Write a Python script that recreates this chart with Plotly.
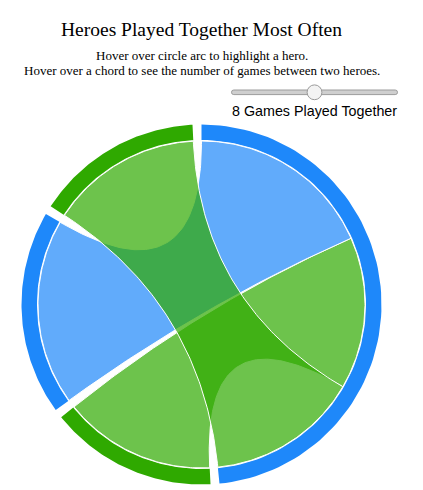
import numpy as np
import plotly.graph_objects as go

# ---------------- data ----------------
heroes = ["Hero 1", "Hero 2", "Hero 3", "Hero 4"]
hero_colors = ["#1e88fa", "#2fa900", "#1e88fa", "#2fa900"]
games = [
    [0, 9, 11, 9],
    [9, 0, 0, 0],
    [11, 0, 0, 0],
    [9, 0, 0, 0],
]
min_games = 8
slider_min, slider_max = 1, 15

title_text = "Heroes Played Together Most Often"
subtitle_lines = [
    "Hover over circle arc to highlight a hero.",
    "Hover over a chord to see the number of games between two heroes.",
]
slider_label = f"{min_games} Games Played Together"

# ---------------- layout constants ----------------
# page body has an 8px default margin: figure is drawn from (8, 8)
OFF = 8
W, H = 423, 490
CX, CY = 201.5, 304.5
R_OUT, R_IN, R_CHORD = 180.0, 164.5, 163.5
PAD = 0.05
CHORD_ALPHA = 0.7


def hex_rgba(h, a):
    h = h.lstrip("#")
    return f"rgba({int(h[0:2],16)},{int(h[2:4],16)},{int(h[4:6],16)},{a})"


def polar(r, th):
    return CX + r * np.sin(th), CY - r * np.cos(th)


def arc(r, a0, a1, n=90):
    th = np.linspace(a0, a1, n)
    return list(CX + r * np.sin(th)), list(CY - r * np.cos(th))


def bezier(a_from, a_to, r, n=90):
    x0, y0 = polar(r, a_from)
    x2, y2 = polar(r, a_to)
    t = np.linspace(0, 1, n)
    x = (1 - t) ** 2 * x0 + 2 * t * (1 - t) * CX + t ** 2 * x2
    y = (1 - t) ** 2 * y0 + 2 * t * (1 - t) * CY + t ** 2 * y2
    return list(x), list(y)


# ---------------- chord layout (d3-style) ----------------
M = np.array(games, dtype=float)
M[M < min_games] = 0
n = len(heroes)
k = (2 * np.pi - n * PAD) / M.sum()
groups, sub = [], {}
pos = 0.0
for i in range(n):
    g0 = pos
    order = sorted(range(n), key=lambda j: -M[i, j])
    for j in order:
        a0 = pos
        pos += M[i, j] * k
        sub[(i, j)] = (a0, pos)
    groups.append((g0, pos))
    pos += PAD

fig = go.Figure()

# group arcs
for i, (g0, g1) in enumerate(groups):
    xo, yo = arc(R_OUT, g0, g1)
    xi, yi = arc(R_IN, g1, g0)
    fig.add_trace(go.Scatter(
        x=xo + xi + [xo[0]], y=yo + yi + [yo[0]],
        mode="lines", fill="toself", fillcolor=hero_colors[i],
        line=dict(width=0, color=hero_colors[i]),
        hoverinfo="text", hoveron="fills",
        text=f"{heroes[i]}: {int(M[i].sum())} games",
        showlegend=False,
    ))

# chords
for i in range(n):
    for j in range(i + 1, n):
        v = M[i, j]
        if v <= 0:
            continue
        s0, s1 = sub[(i, j)]
        t0, t1 = sub[(j, i)]
        xs, ys = arc(R_CHORD, s0, s1)
        xb1, yb1 = bezier(s1, t0, R_CHORD)
        xt, yt = arc(R_CHORD, t0, t1)
        xb2, yb2 = bezier(t1, s0, R_CHORD)
        fig.add_trace(go.Scatter(
            x=xs + xb1 + xt + xb2, y=ys + yb1 + yt + yb2,
            mode="lines", fill="toself",
            fillcolor=hex_rgba(hero_colors[j], CHORD_ALPHA),
            line=dict(width=1, color="white"),
            hoverinfo="text", hoveron="fills",
            text=f"{heroes[i]} & {heroes[j]}: {int(v)} games",
            showlegend=False,
        ))

# text
fig.add_annotation(x=201.5, y=29, text=title_text, showarrow=False,
                   xanchor="center", yanchor="middle",
                   font=dict(family="Liberation Serif", size=19.5, color="#000"))
fig.add_annotation(x=201.5, y=55.5, text=subtitle_lines[0], showarrow=False,
                   xanchor="center", yanchor="middle",
                   font=dict(family="Liberation Serif", size=13, color="#000"))
fig.add_annotation(x=201.5, y=70.5, text=subtitle_lines[1], showarrow=False,
                   xanchor="center", yanchor="middle",
                   font=dict(family="Liberation Serif", size=13, color="#000"))
fig.add_annotation(x=229.5, y=110.5, text=slider_label, showarrow=False,
                   xanchor="left", yanchor="middle",
                   font=dict(family="Liberation Sans", size=14.3, color="#000"))

# slider (rail + knob) positioned by the slider value
RX0, RX1, RY, RH, KR = 231.5, 397.5, 92.3, 4.6, 7.4
r = RH / 2
y0, y1 = RY - r, RY + r
rail_path = (f"M {RX0 + r},{y0} L {RX1 - r},{y0} Q {RX1},{y0} {RX1},{RY} "
             f"Q {RX1},{y1} {RX1 - r},{y1} L {RX0 + r},{y1} Q {RX0},{y1} {RX0},{RY} "
             f"Q {RX0},{y0} {RX0 + r},{y0} Z")
fig.add_shape(type="path", path=rail_path, xref="x", yref="y",
              fillcolor="#cfcfcf", line=dict(color="#9c9c9c", width=1))
frac = (min_games - slider_min) / (slider_max - slider_min)
kx = RX0 + KR + (RX1 - RX0 - 2 * KR) * frac
fig.add_shape(type="circle", xref="x", yref="y",
              x0=kx - KR, x1=kx + KR, y0=RY - KR, y1=RY + KR,
              fillcolor="#f3f3f3", line=dict(color="#9a9a9a", width=1))

fig.update_layout(
    width=W - OFF, height=H - OFF,
    margin=dict(l=0, r=0, t=0, b=0, pad=0, autoexpand=False),
    paper_bgcolor="white", plot_bgcolor="white",
    xaxis=dict(range=[OFF, W], visible=False, fixedrange=True),
    yaxis=dict(range=[H, OFF], visible=False, fixedrange=True),
    showlegend=False,
    hovermode="closest",
)

fig.write_html("out.html")
